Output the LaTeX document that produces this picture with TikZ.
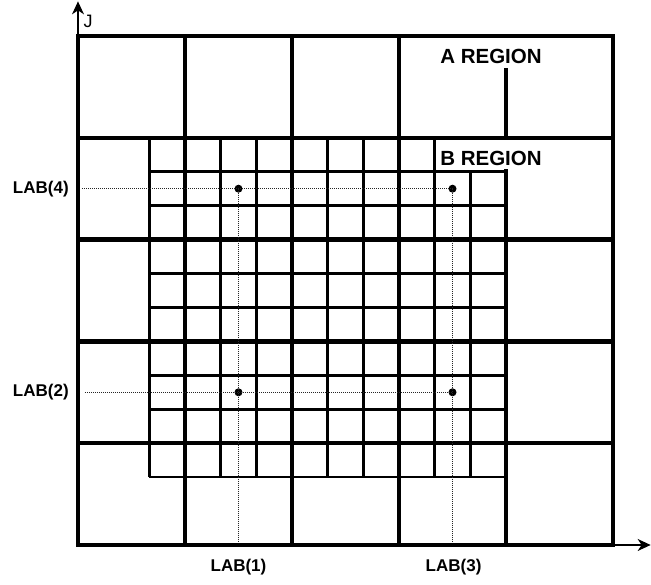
\documentclass[tikz,border=0pt]{standalone}
\usepackage{fontspec}
\setmainfont{Liberation Sans}
\usetikzlibrary{arrows.meta}
\begin{document}
\begin{tikzpicture}[x=107pt,y=101.8pt,
  coarse/.style={line width=4.5pt,line cap=rect},
  fine/.style={line width=2.6pt},
  guide/.style={line width=1pt,dash pattern=on 1pt off 1pt,black!85},
  axis/.style={line width=1.3pt,-{Stealth[length=13pt,width=12pt,inset=4pt]}},
  lab/.style={font=\fontsize{17}{20}\selectfont\bfseries,inner sep=0pt},
  reg/.style={font=\fontsize{20.5}{24}\selectfont\bfseries,inner sep=0pt},
  pt/.style={circle,fill=black,inner sep=0pt,minimum size=8pt}]
\useasboundingbox (-78/107,-40/101.8) rectangle (573/107,545/101.8);
% fine grid
\foreach \v in {2/3,4/3,5/3,7/3,8/3,10/3}{
  \draw[fine] (\v,2/3) -- (\v,4);
  \draw[fine] (2/3,\v) -- (4,\v);
}
\draw[fine] (11/3,2/3) -- (11/3,11/3);
\draw[fine] (2/3,11/3) -- (4,11/3);
% coarse grid
\foreach \k in {0,...,5}{ \draw[coarse] (0,\k) -- (5,\k); }
\foreach \k in {0,1,2,3,5}{ \draw[coarse] (\k,0) -- (\k,5); }
\draw[coarse] (4,0) -- (4,11/3);
\draw[coarse] (4,4) -- (4,14/3);
% axes
\coordinate (ytop) at (0,5.34);
\coordinate (xend) at (5.352,0);
\draw[axis] (0,5) -- (ytop);
\draw[axis] (5,0) -- (xend);
\node[font=\fontsize{18}{21}\selectfont,inner sep=0pt] (J) at (0.095,5.14) {J};
% points and guides
\node[pt] (p4) at (1.5,3.5) {};
\node[pt] (p43) at (3.5,3.5) {};
\node[pt] (p2) at (1.5,1.5) {};
\node[pt] (p23) at (3.5,1.5) {};
\coordinate (l4) at (0.04,3.5);
\coordinate (l2) at (0.065,1.5);
\coordinate (b1) at (1.5,0.03);
\coordinate (b3) at (3.5,0.03);
\draw[guide] (l4) -- (p43.center);
\draw[guide] (l2) -- (p23.center);
\draw[guide] (p4.center) -- (b1);
\draw[guide] (p43.center) -- (b3);
% labels
\node[lab,anchor=east] (LAB4) at (-0.085,3.5) {LAB(4)};
\node[lab,anchor=east] (LAB2) at (-0.085,1.5) {LAB(2)};
\node[lab] (LAB1) at (1.5,-0.215) {LAB(1)};
\node[lab] (LAB3) at (3.51,-0.215) {LAB(3)};
\node[reg] (A) at (3.86,4.80) {A REGION};
\node[reg] (B) at (3.86,3.80) {B REGION};
\end{tikzpicture}
\end{document}
